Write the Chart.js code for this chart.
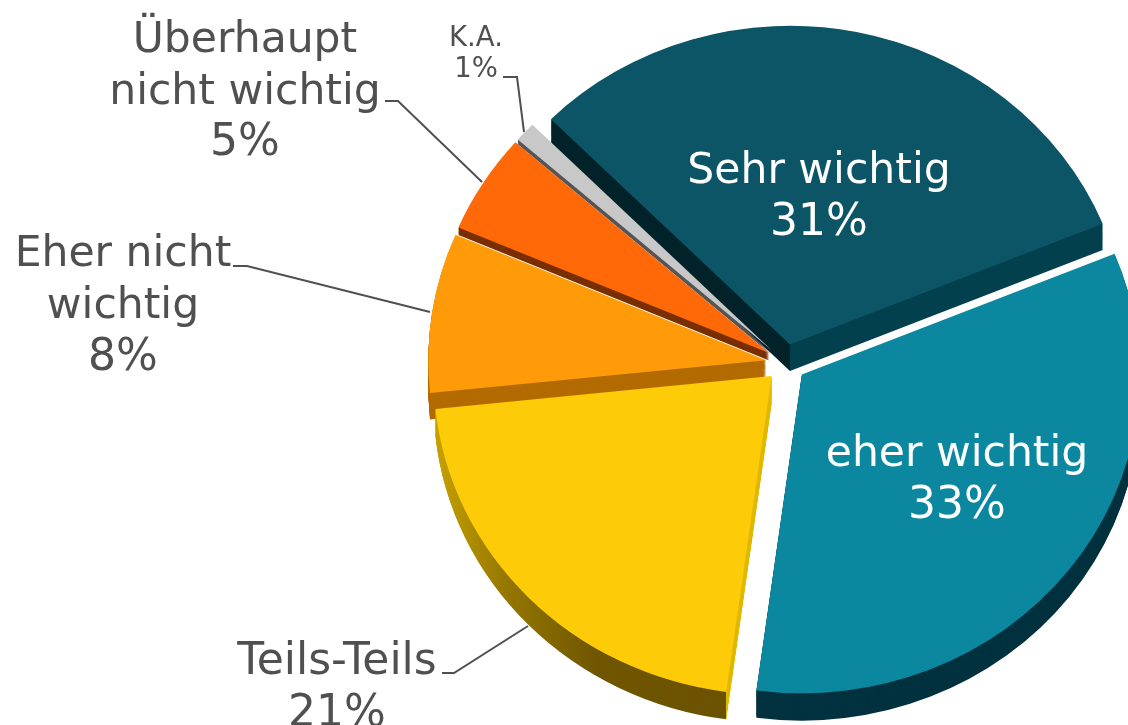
<!DOCTYPE html>
<html><head><meta charset="utf-8">
<style>html,body{margin:0;padding:0;background:#fff;overflow:hidden}canvas{display:block}</style>
<script src="https://cdn.jsdelivr.net/npm/chart.js@4"></script>
</head><body><canvas id="c" width="1128" height="725"></canvas>
<script>
const categories = ["Sehr wichtig","eher wichtig","Teils-Teils","Eher nicht wichtig","Überhaupt nicht wichtig","K.A."];
const values = [31,33,21,8,5,1];
const topColors = ["#0c5567","#0b88a0","#fecb08","#ff9b08","#ff6908","#c8c8c8"];
const sideColors = ["#03404e","#02323f","#6b5200","#b36b00","#7a2f00","#555555"];
const depths = [28,29,29,28,8,5];
const EXPLODE = 20, SQUASH = 0.943;
const labelTexts = [
  {lines:["Sehr wichtig","31%"],x:819,y:183,size:42.5,pct:44,color:"#ffffff",gap:52},
  {lines:["eher wichtig","33%"],x:957,y:466,size:42.5,pct:44,color:"#ffffff",gap:52},
  {lines:["Teils-Teils","21%"],x:337,y:674,size:44,pct:44,color:"#505050",gap:52},
  {lines:["Eher nicht","wichtig","8%"],x:123,y:266,size:42.5,pct:44,color:"#505050",gap:52},
  {lines:["Überhaupt","nicht wichtig","5%"],x:245,y:52,size:42.5,pct:44,color:"#505050",gap:51.5},
  {lines:["K.A.","1%"],x:476,y:46,size:27.5,pct:27.5,color:"#505050",gap:31}
];
const leaders = [
  [[528,626],[454,673],[442,673]],
  [[430,312],[247,266],[233,266]],
  [[482,182],[398,101],[385,101]],
  [[524,132],[517,77],[503,77]]
];
function sideFill(ctx,arc,i){
  const r=arc.outerRadius;
  if(i===0){const g=ctx.createLinearGradient(arc.x-1,0,arc.x+1,0);
    g.addColorStop(0,"#012229");g.addColorStop(.5,"#012229");g.addColorStop(.5,sideColors[0]);g.addColorStop(1,sideColors[0]);return g;}
  if(i===2){const cx=arc.x+r*Math.cos(arc.startAngle),x0=arc.x-r;
    const g=ctx.createLinearGradient(x0,0,cx+1,0);
    g.addColorStop(0,"#c8a200");g.addColorStop(.25,"#947700");g.addColorStop(.55,"#705600");
    g.addColorStop(.995,sideColors[2]);g.addColorStop(.995,"#e0b800");g.addColorStop(1,"#e0b800");return g;}
  return sideColors[i];
}
const pie3d = {
  id:"pie3d",
  beforeDatasetDraw(chart){
    const ctx=chart.ctx, arcs=chart.getDatasetMeta(0).data, cx=arcs[0].x, cy=arcs[0].y;
    ctx.save();
    ctx.translate(cx,cy);ctx.scale(1,SQUASH);ctx.translate(-cx,-cy);
    const paint=(i,dy,fill)=>{
      const a=arcs[i],mid=(a.startAngle+a.endAngle)/2,saved=a.options;
      ctx.save();
      ctx.translate(Math.cos(mid)*EXPLODE,Math.sin(mid)*EXPLODE+dy);
      a.options=Object.assign({},saved,{backgroundColor:fill,offset:0});
      a.draw(ctx);
      a.options=saved;
      ctx.restore();
    };
    const order=[5,4,3,0,1,2];
    order.forEach(i=>{const f=sideFill(ctx,arcs[i],i);for(let d=depths[i];d>=1;d--)paint(i,d,f);});
    order.forEach(i=>paint(i,0,topColors[i]));
    ctx.restore();
    return false;
  },
  afterDraw(chart){
    const ctx=chart.ctx;
    ctx.save();
    ctx.strokeStyle="#505050";ctx.lineWidth=2;
    leaders.forEach(l=>{ctx.beginPath();l.forEach((p,i)=>i?ctx.lineTo(p[0],p[1]):ctx.moveTo(p[0],p[1]));ctx.stroke();});
    ctx.textAlign="center";ctx.textBaseline="alphabetic";
    labelTexts.forEach(t=>{ctx.fillStyle=t.color;
      t.lines.forEach((s,i)=>{ctx.font=(i===t.lines.length-1?t.pct:t.size)+'px "DejaVu Sans"';ctx.fillText(s,t.x,t.y+i*t.gap);});});
    ctx.restore();
  }
};
new Chart(document.getElementById("c"),{
  type:"pie",
  data:{labels:categories,datasets:[{data:values,backgroundColor:topColors,borderWidth:0,radius:338,clip:false}]},
  options:{responsive:false,animation:false,rotation:-45,
    layout:{padding:{left:444,right:0,top:1,bottom:0}},
    plugins:{legend:{display:false},tooltip:{enabled:false}},events:[]},
  plugins:[pie3d]
});
</script></body></html>
